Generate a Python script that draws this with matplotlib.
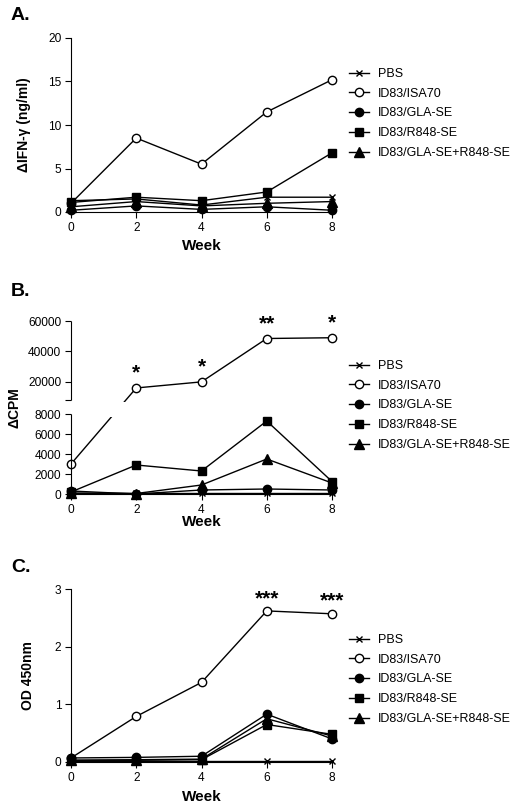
import matplotlib
matplotlib.use('Agg')
import matplotlib.pyplot as plt
import numpy as np

plt.rcParams['font.family'] = ['Liberation Sans', 'DejaVu Sans']

weeks = [0, 2, 4, 6, 8]
groups = ['PBS', 'ID83/ISA70', 'ID83/GLA-SE', 'ID83/R848-SE', 'ID83/GLA-SE+R848-SE']
markers = ['x', 'o', 'o', 's', '^']
facecolors = ['k', 'white', 'k', 'k', 'k']
marker_sizes = [4.5, 6, 6, 5.5, 6.5]

# A. IFN-gamma (ng/ml)
ifn_pbs = [1.3, 1.5, 0.8, 1.7, 1.7]
ifn_isa70 = [1.0, 8.5, 5.5, 11.5, 15.2]
ifn_gla = [0.2, 0.7, 0.3, 0.6, 0.2]
ifn_r848 = [1.1, 1.7, 1.3, 2.3, 6.8]
ifn_combo = [0.6, 1.2, 0.7, 1.0, 1.2]

# B. proliferation (delta CPM)
cpm_pbs = [100, 100, 100, 100, 100]
cpm_isa70 = [3000, 16000, 20000, 48500, 49000]
cpm_gla = [300, 0, 400, 500, 400]
cpm_r848 = [200, 2900, 2300, 7300, 1250]
cpm_combo = [100, 50, 900, 3500, 1100]
cpm_stars = ['', '*', '*', '**', '*']

# C. antibody (OD 450nm)
od_pbs = [0.02, 0.02, 0.02, 0.02, 0.02]
od_isa70 = [0.07, 0.79, 1.38, 2.62, 2.57]
od_gla = [0.07, 0.08, 0.10, 0.83, 0.40]
od_r848 = [0.03, 0.03, 0.04, 0.65, 0.48]
od_combo = [0.03, 0.04, 0.05, 0.75, 0.45]
od_stars = ['', '', '', '***', '***']

W, H = 512, 807
fig = plt.figure(figsize=(W / 100, H / 100), dpi=100)


def make_ax(top, bottom):
    return fig.add_axes([71 / W, 1 - bottom / H, (332 - 71) / W, (bottom - top) / H])


def draw(ax, series):
    for vals, m, fc, ms, lab in zip(series, markers, facecolors, marker_sizes, groups):
        ax.plot(weeks, vals, color='k', lw=1, marker=m, ms=ms, mfc=fc, mec='k',
                mew=1, label=lab, clip_on=False, zorder=3)
    ax.set_xlim(0, 8)
    ax.set_xticks(weeks)
    for s in ['top', 'right']:
        ax.spines[s].set_visible(False)
    ax.tick_params(direction='out', length=4, width=0.8, labelsize=8.6, pad=3)
    ax.set_xlabel('Week', fontsize=11, fontweight='bold')


def legend(ax, top):
    ax.legend(loc='upper left', bbox_to_anchor=(349 / W, 1 - (top - 5) / H),
              bbox_transform=fig.transFigure, frameon=False, fontsize=9,
              handlelength=1.6, handletextpad=0.7, labelspacing=0.62,
              borderpad=0, borderaxespad=0)


def stars(ax, ys, labels, dy):
    for x, y, s in zip(weeks, ys, labels):
        if s:
            ax.annotate(s, (x, y), xytext=(0, dy), textcoords='offset points',
                        ha='center', va='center', fontsize=15, fontweight='bold')


# ---- A ----
axA = make_ax(38, 212)
draw(axA, [ifn_pbs, ifn_isa70, ifn_gla, ifn_r848, ifn_combo])
axA.set_ylim(0, 20)
axA.set_yticks([0, 5, 10, 15, 20])
axA.set_ylabel('\u0394IFN-\u03b3 (ng/ml)', fontsize=10, fontweight='bold')
axA.yaxis.set_label_coords(-0.152, 0.5)
axA.xaxis.set_label_coords(0.5, -0.155)
legend(axA, 73)

# ---- B (broken axis) ----
axB = make_ax(321, 494)
brk_val = [0, 8000, 14000, 60000]
brk_pos = [0, 80, 103, 173]
axB.set_yscale('function', functions=(lambda y: np.interp(y, brk_val, brk_pos),
                                      lambda p: np.interp(p, brk_pos, brk_val)))
draw(axB, [cpm_pbs, cpm_isa70, cpm_gla, cpm_r848, cpm_combo])
axB.set_ylim(0, 60000)
axB.set_yticks([0, 2000, 4000, 6000, 8000, 11650, 20000, 40000, 60000])
axB.set_yticklabels(['0', '2000', '4000', '6000', '8000', '', '20000', '40000', '60000'])
axB.spines['left'].set_visible(False)
axB.vlines(0, 0, 8000, color='k', lw=0.8, clip_on=False, zorder=4)
axB.vlines(0, 11650, 60000, color='k', lw=0.8, clip_on=False, zorder=4)
axB.fill_between([0.4, 1.8], 7700, 11130, color='white', lw=0, zorder=5)
axB.set_ylabel('\u0394CPM', fontsize=10, fontweight='bold')
axB.yaxis.set_label_coords(-0.19, 0.5)
axB.xaxis.set_label_coords(0.5, -0.12)
stars(axB, cpm_isa70, cpm_stars, 10.5)
legend(axB, 365)

# ---- C ----
axC = make_ax(589, 762)
draw(axC, [od_pbs, od_isa70, od_gla, od_r848, od_combo])
axC.set_ylim(0, 3)
axC.set_yticks([0, 1, 2, 3])
axC.set_ylabel('OD 450nm', fontsize=10, fontweight='bold')
axC.yaxis.set_label_coords(-0.138, 0.5)
axC.xaxis.set_label_coords(0.5, -0.16)
stars(axC, od_isa70, od_stars, 9)
legend(axC, 639)

for lab, y in [('A.', 20), ('B.', 296), ('C.', 572)]:
    fig.text(11 / W, 1 - y / H, lab, fontsize=14, fontweight='bold', va='baseline')

fig.savefig('out.png', dpi=100)
